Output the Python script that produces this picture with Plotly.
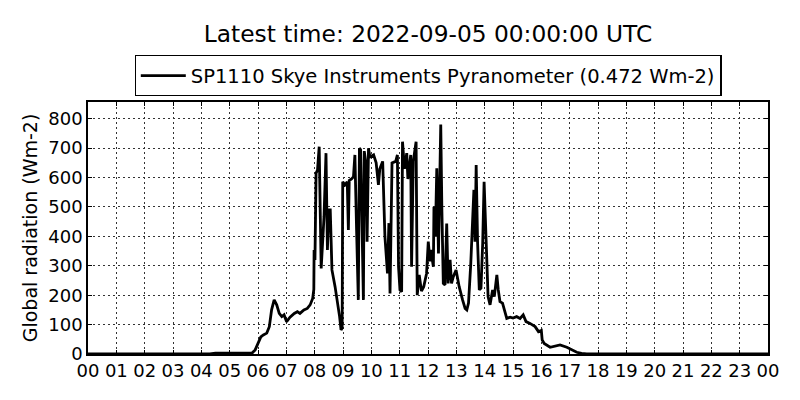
import plotly.graph_objects as go

# hours since 00 UTC and global radiation (Wm-2)
hours = [0.0, 4.3, 4.5, 5.0, 5.5, 5.8, 5.9, 6.01, 6.1, 6.19, 6.31, 6.4, 6.48, 6.57,
         6.66, 6.75, 6.84, 6.92, 7.01, 7.13, 7.28, 7.39, 7.48, 7.62, 7.74, 7.84,
         7.93, 7.97, 7.98, 8.01, 8.05, 8.1, 8.16, 8.2, 8.23, 8.33, 8.4, 8.45, 8.5,
         8.55, 8.58, 8.61, 8.72, 8.8, 8.88, 8.93, 8.97, 8.99, 9.07, 9.15, 9.19,
         9.22, 9.3, 9.37, 9.42, 9.48, 9.54, 9.58, 9.62, 9.66, 9.72, 9.75, 9.81,
         9.85, 9.9, 9.95, 10.08, 10.17, 10.25, 10.3, 10.4, 10.48, 10.57, 10.62,
         10.66, 10.73, 10.86, 10.92, 10.96, 11.01, 11.07, 11.1, 11.17, 11.25,
         11.29, 11.39, 11.42, 11.48, 11.58, 11.62, 11.69, 11.77, 11.85, 11.95,
         12.01, 12.07, 12.1, 12.19, 12.21, 12.26, 12.31, 12.37, 12.41, 12.45,
         12.49, 12.54, 12.6, 12.66, 12.71, 12.78, 12.83, 12.89, 12.99, 13.1,
         13.22, 13.31, 13.37, 13.43, 13.51, 13.55, 13.62, 13.66, 13.7, 13.75,
         13.81, 13.87, 13.93, 13.98, 14.04, 14.12, 14.19, 14.24, 14.28, 14.34,
         14.43, 14.48, 14.54, 14.63, 14.72, 14.78, 14.9, 15.0, 15.13, 15.25,
         15.36, 15.46, 15.6, 15.78, 15.9, 16.0, 16.03, 16.1, 16.31, 16.48, 16.66,
         16.9, 17.07, 17.25, 17.42, 17.6, 24.0]
radiation = [0, 0, 3, 3, 3, 4, 14, 42, 58, 65, 71, 93, 150, 184,
             167, 138, 127, 133, 110, 125, 138, 144, 138, 150, 155, 167,
             189, 220, 354, 320, 615, 625, 705, 465, 291, 467, 683, 354, 490,
             490, 320, 286, 229, 184, 127, 82, 88, 586, 575, 586, 422,
             590, 595, 603, 677, 420, 184, 700, 695, 501, 184, 690, 648,
             382, 700, 670, 677, 650, 575, 630, 655, 399, 274, 445,
             206, 650, 655, 677, 297, 218, 212, 722, 630, 683,
             595, 677, 297, 655, 722, 200, 269, 214, 229, 274,
             382, 315, 354, 297, 501, 399, 632, 342, 626, 780,
             490, 240, 235, 444, 240, 320, 240, 262, 286, 229,
             184, 155, 150, 173, 308, 399, 558, 382, 643, 380,
             218, 224, 376, 586, 399, 195, 167, 189, 218, 195,
             269, 218, 178, 173, 145, 121, 125, 122, 127, 121,
             133, 110, 104, 93, 76, 80, 48, 36, 23, 27, 31,
             23, 14, 6, 2, 0, 0]

tick_hours = list(range(25))
tick_labels = ["%02d" % (h % 24) for h in tick_hours]

fig = go.Figure()
fig.add_trace(go.Scatter(x=hours, y=radiation, mode="lines",
                         line=dict(color="black", width=2.8),
                         name="SP1110 Skye Instruments Pyranometer (0.472 Wm-2)"))

axis_style = dict(showline=True, linecolor="black", linewidth=1.5, mirror="ticks",
                  ticks="inside", ticklen=4, tickcolor="black",
                  showgrid=True, gridcolor="#333333", gridwidth=0.8, griddash="2px,3px",
                  zeroline=False, tickfont=dict(size=18, color="black"))

# the page body adds 8px on the left and top, so margins are 8px smaller there
fig.update_layout(
    width=800, height=400,
    margin=dict(l=80, r=40, t=94, b=54),
    paper_bgcolor="white", plot_bgcolor="white",
    font=dict(family="DejaVu Sans", color="black"),
    title=dict(text="Latest time: 2022-09-05 00:00:00 UTC", x=0.5, xref="paper",
               xanchor="center", y=0.935, yref="container", yanchor="middle",
               font=dict(size=23.3)),
    showlegend=True,
    legend=dict(x=0.5, xanchor="center", y=1.186, yanchor="top",
                bordercolor="black", borderwidth=1.3, font=dict(size=19.5),
                bgcolor="white", itemwidth=45),
    xaxis=dict(range=[0, 24], tickmode="array", tickvals=tick_hours,
               ticktext=tick_labels, **axis_style),
    yaxis=dict(range=[0, 857], tickmode="array", tickvals=list(range(0, 900, 100)),
               title=dict(text="Global radiation (Wm-2)", font=dict(size=19), standoff=6),
               **axis_style),
)

fig.write_html("out.html")
